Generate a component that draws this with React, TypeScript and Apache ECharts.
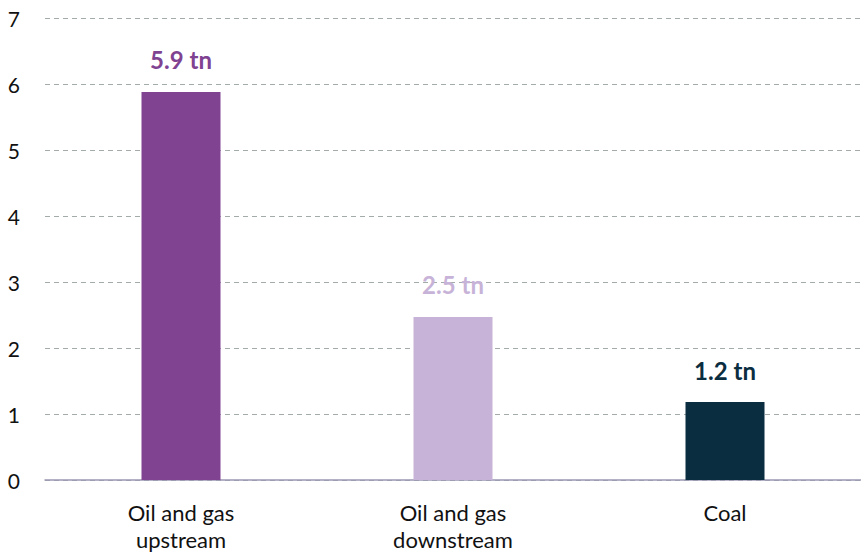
import React, { useEffect, useRef } from "react";
import * as echarts from "echarts";

const categories = ["Oil and gas\nupstream", "Oil and gas\ndownstream", "Coal"];
const values = [5.88, 2.47, 1.18];
const valueLabels = ["5.9 tn", "2.5 tn", "1.2 tn"];
const barColors = ["#7f4391", "#c8b3d8", "#0b2d40"];
const yTicks = [0, 1, 2, 3, 4, 5, 6, 7];

export default function App() {
  const ref = useRef<HTMLDivElement>(null);
  useEffect(() => {
    document.body.style.margin = "0";
    const chart = echarts.init(ref.current!, null, { renderer: "svg" });
    const font = "Lato, 'Noto Sans', sans-serif";
    chart.setOption({
      animation: false,
      grid: { left: 45, right: 0, top: 18, bottom: 75 },
      xAxis: {
        type: "category",
        data: categories,
        axisTick: { show: false },
        axisLine: { lineStyle: { color: "#9a98b0", width: 1.5 } },
        axisLabel: {
          color: "#111",
          fontSize: 22,
          fontFamily: font,
          lineHeight: 27,
          margin: 19,
        },
      },
      yAxis: {
        type: "value",
        min: yTicks[0],
        max: yTicks[yTicks.length - 1],
        interval: 1,
        axisLabel: {
          color: "#111",
          fontSize: 21,
          fontFamily: font,
          margin: 25,
          align: "right",
        },
        splitLine: { lineStyle: { color: "#a3aca8", type: [5, 4], width: 1 } },
        axisLine: { show: false },
        axisTick: { show: false },
      },
      series: [
        {
          type: "bar",
          barWidth: 79,
          data: values.map((v, i) => ({
            value: v,
            itemStyle: { color: barColors[i] },
            label: {
              show: true,
              position: "top",
              distance: 20,
              formatter: valueLabels[i],
              color: barColors[i],
              fontSize: 24,
              fontWeight: "bold",
              fontFamily: font,
            },
          })),
        },
      ],
    });
    return () => chart.dispose();
  }, []);
  return <div ref={ref} style={{ width: 861, height: 555 }} />;
}
